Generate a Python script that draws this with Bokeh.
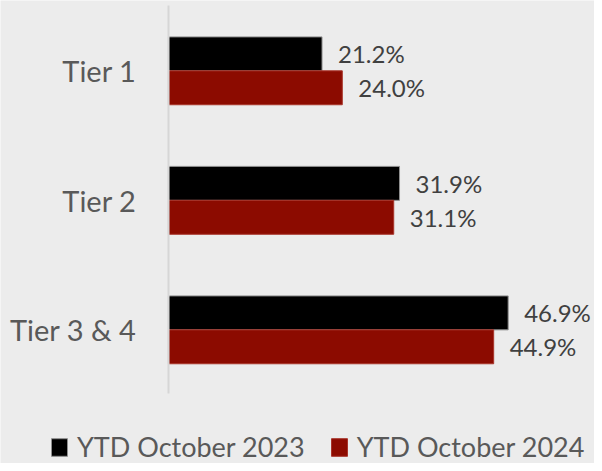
from bokeh.plotting import figure
from bokeh.models import ColumnDataSource, Range1d, FixedTicker, Legend, LegendItem
from bokeh.transform import dodge
from bokeh.core.properties import value
from bokeh.embed import file_html
from bokeh.resources import INLINE

tiers = ["Tier 1", "Tier 2", "Tier 3 & 4"]
ytd_2023 = [21.2, 31.9, 46.9]
ytd_2024 = [24.0, 31.1, 44.9]
series_names = ["YTD October 2023", "YTD October 2024"]

pos = list(range(len(tiers)))
src = ColumnDataSource(dict(
    y=pos,
    a=ytd_2023,
    b=ytd_2024,
    la=[f"{v:.1f}%" for v in ytd_2023],
    lb=[f"{v:.1f}%" for v in ytd_2024],
))

BG = "#ececec"
FONT = "Lato"
BAR_H = 0.262

p = figure(width=594, height=463, output_backend="svg", toolbar_location=None,
           x_range=Range1d(-23.19, 58.82), y_range=Range1d(3.032, -0.543),
           min_border_left=0, min_border_right=0, min_border_top=0, min_border_bottom=0)
p.background_fill_color = BG
p.border_fill_color = BG
p.outline_line_color = None
p.grid.visible = False
p.xaxis.visible = False

r1 = p.hbar(y=dodge("y", -BAR_H / 2), right="a", left=0, height=BAR_H, source=src,
            fill_color="#000000", line_color="#8f8f8f", line_width=1)
r2 = p.hbar(y=dodge("y", BAR_H / 2), right="b", left=0, height=BAR_H, source=src,
            fill_color="#8c0b00", line_color="#a8342a", line_width=1)

p.text(x="a", y=dodge("y", -BAR_H / 2), text="la", source=src, x_offset=16,
       text_baseline="middle", text_align="left", text_font=value(FONT),
       text_font_size="24px", text_color="#404040")
p.text(x="b", y=dodge("y", BAR_H / 2), text="lb", source=src, x_offset=16,
       text_baseline="middle", text_align="left", text_font=value(FONT),
       text_font_size="24px", text_color="#404040")

ax = p.yaxis[0]
ax.fixed_location = 0
ax.bounds = (-0.505, 2.493)
ax.ticker = FixedTicker(ticks=pos)
ax.major_label_overrides = {i: t for i, t in zip(pos, tiers)}
ax.major_label_text_font = FONT
ax.major_label_text_font_size = "29px"
ax.major_label_text_color = "#595959"
ax.major_label_standoff = 26
ax.major_tick_line_color = None
ax.minor_tick_line_color = None
ax.axis_line_color = "#d6d6d6"
ax.axis_line_width = 2

legend = Legend(items=[LegendItem(label=series_names[0], renderers=[r1]),
                       LegendItem(label=series_names[1], renderers=[r2])],
                orientation="horizontal", location=(49, 0),
                glyph_width=20, glyph_height=22, label_standoff=8, spacing=24,
                label_text_font=FONT, label_text_font_size="27px",
                label_text_color="#595959", padding=0, margin=0,
                border_line_color=None, background_fill_alpha=0)
p.add_layout(legend, "center")

open("out.html", "w").write(file_html(p, INLINE))
